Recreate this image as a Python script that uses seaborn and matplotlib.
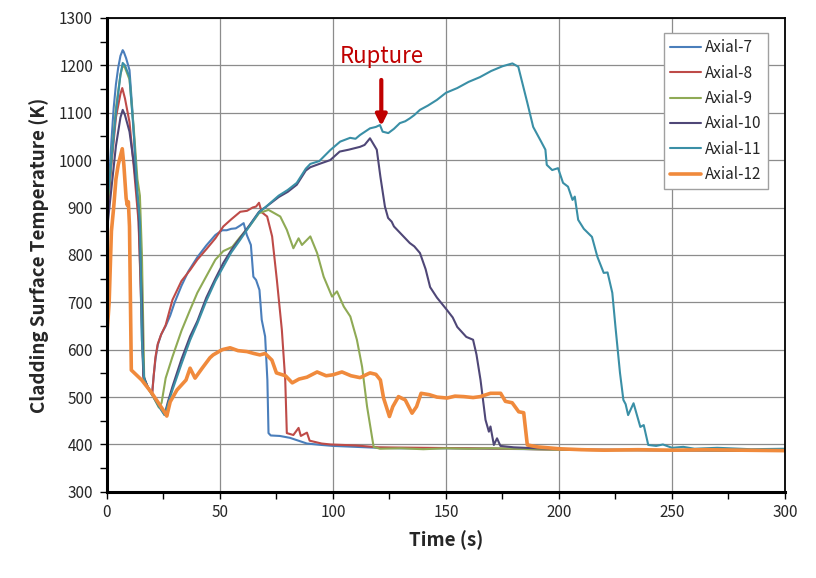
import numpy as np
import pandas as pd
import seaborn as sns
import matplotlib.pyplot as plt
from matplotlib.ticker import MultipleLocator

# ----------- Data (time s, temperature K) ----------------------------------------

axial_7 = [(0, 890), (1, 960), (2, 1040), (3, 1110), (4, 1160), (5, 1195), (6, 1220), (7, 1232),
           (7.5, 1228), (8.5, 1215), (10, 1190), (11.5, 1090), (13, 960), (14, 880), (14.8, 760),
           (15.5, 620), (16.2, 540), (18, 522), (20, 507), (20.7, 545), (21.5, 580), (22.5, 610),
           (24, 632), (26, 650), (28, 672), (30, 700), (33, 735), (36, 765), (40, 795), (44, 820),
           (48, 842), (51, 852), (53, 852), (55, 855), (57, 856), (59, 862), (60.5, 867), (61.9, 842),
           (63.7, 821), (64.8, 754), (66, 747), (67.5, 726), (68.5, 663), (70, 628), (71, 536),
           (71.5, 424), (72.5, 419), (76.5, 418), (81, 414), (88.5, 402), (95, 399), (100, 397),
           (110, 395), (120, 393), (130, 392), (150, 392), (170, 391), (190, 390), (210, 389),
           (230, 389), (250, 388), (270, 388), (300, 387)]

axial_8 = [(0, 870), (2, 990), (4, 1090), (6, 1140), (6.8, 1152), (8, 1130), (10, 1080), (12, 980),
           (14, 870), (15.5, 650), (16.2, 540), (18, 522), (20, 505), (20.7, 545), (21.5, 585),
           (22.5, 612), (24, 632), (26, 652), (29, 705), (33, 745), (36.8, 768), (40, 790), (44, 812),
           (48, 835), (51.5, 860), (55, 875), (59, 891), (62, 893), (64.5, 900), (66, 902), (67.3, 910),
           (68.5, 890), (70.9, 881), (73.1, 839), (75.2, 747), (77.4, 642), (78.9, 536), (79.6, 424),
           (82.5, 420), (84.8, 435), (85.8, 418), (88.5, 425), (89.7, 408), (95, 402), (99, 400),
           (110, 398), (120, 394), (140, 393), (160, 392), (180, 391), (200, 389), (220, 388),
           (250, 388), (280, 387), (300, 387)]

axial_9 = [(0, 880), (2, 1000), (4, 1110), (6, 1180), (7, 1200), (8, 1195), (10, 1170), (12, 1060),
           (13.5, 960), (14.6, 925), (15.5, 800), (16.5, 540), (18, 520), (20, 505), (23, 478),
           (24.2, 488), (26, 540), (29, 585), (33, 640), (36.8, 684), (40, 720), (44, 755), (48, 790),
           (51.5, 808), (55.5, 817), (59, 838), (63, 860), (67.3, 888), (71.5, 895), (76.7, 881),
           (79.6, 853), (82.5, 814), (84.8, 835), (86.3, 821), (90, 839), (93, 804), (95.9, 754),
           (99.6, 712), (101.8, 723), (104.8, 691), (107.7, 670), (110.6, 621), (112.9, 564),
           (115.1, 480), (118, 395), (120.8, 391), (130, 392), (140, 390), (150, 392), (160, 391),
           (170, 392), (180, 391), (200, 389), (220, 388), (250, 388), (280, 387), (300, 387)]

axial_10 = [(0, 850), (2, 940), (4, 1030), (6, 1090), (7, 1106), (8, 1095), (10, 1060), (12, 990),
            (14, 900), (15.5, 700), (16.2, 545), (18, 522), (20, 506), (23, 482), (25.5, 463),
            (27, 490), (29, 522), (33, 580), (36.8, 628), (40, 660), (44, 710), (48, 750),
            (51.5, 783), (55, 810), (59, 836), (63, 862), (67.3, 891), (70, 900), (76, 922),
            (80, 933), (84, 948), (88, 978), (90, 985), (94, 992), (98.8, 1000), (103, 1018),
            (107, 1022), (112, 1028), (114, 1032), (116.4, 1046), (119.4, 1022), (121, 965),
            (123, 902), (124.4, 878), (126, 870), (127, 860), (130, 845), (134, 825), (136, 818),
            (138.5, 804), (141, 770), (143, 732), (146, 710), (150.4, 684), (153, 668), (155, 648),
            (159, 627), (162, 621), (163.5, 590), (165.3, 536), (167.5, 452), (169, 427),
            (169.7, 438), (171.2, 399), (172.6, 413), (174.1, 397), (180, 394), (190, 392),
            (210, 389), (240, 388), (270, 388), (300, 387)]

axial_11 = [(0, 900), (2, 1000), (4, 1100), (6, 1180), (7, 1205), (8, 1200), (10, 1175), (12, 1050),
            (13.5, 930), (14.6, 870), (15.5, 620), (16.5, 538), (18, 520), (20, 505), (23, 480),
            (25.5, 462), (27, 485), (29, 515), (33, 570), (36.8, 620), (40, 655), (44, 703),
            (48, 745), (51.5, 775), (55, 805), (59, 832), (63, 860), (67.3, 890), (70, 900),
            (76, 925), (80, 937), (84, 952), (88, 982), (90, 992), (94, 998), (98.8, 1021),
            (103.2, 1039), (107.6, 1047), (110, 1045), (112, 1053), (116.4, 1067), (119, 1070),
            (120.8, 1074), (122, 1060), (124.5, 1057), (127, 1066), (129.6, 1078), (132, 1082),
            (134, 1088), (136, 1095), (138.5, 1106), (142, 1115), (146, 1127), (150, 1142),
            (155, 1152), (160, 1165), (165, 1175), (170, 1188), (175, 1198), (179.4, 1204),
            (182, 1197), (186, 1121), (188.6, 1070), (192, 1040), (194, 1022), (194.6, 990),
            (197, 979), (199.6, 983), (201.8, 952), (204, 944), (206, 916), (207, 923), (208.5, 874),
            (211, 855), (214.6, 838), (217, 796), (219.8, 762), (221.5, 763), (223.6, 720),
            (225, 648), (227, 551), (228.5, 494), (229.5, 485), (230.6, 462), (233, 487), (236, 437),
            (237.5, 441), (239.5, 399), (243, 397), (246, 400), (250, 393), (255, 395), (260, 391),
            (270, 393), (285, 390), (300, 391)]

axial_12 = [(0, 630), (1, 700), (2, 850), (3, 900), (4, 960), (5, 990), (6.8, 1024), (7.5, 990),
            (8.5, 920), (9, 905), (9.5, 912), (10, 860), (10.8, 557), (15.4, 536), (19.8, 509),
            (25.7, 467), (26.5, 460), (28, 490), (31, 515), (35, 536), (36.8, 561), (39, 540),
            (42, 560), (45.6, 583), (47, 589), (51, 600), (54.5, 604), (58, 598), (62, 596),
            (65, 592), (67.7, 589), (70, 592), (73, 578), (75, 551), (79, 545), (82, 530), (85, 538),
            (88.5, 542), (93, 553), (97, 545), (100, 547), (104, 553), (108, 545), (112, 541),
            (116.4, 551), (119, 548), (121, 536), (122.4, 498), (125, 459), (126.5, 480), (129, 501),
            (132, 494), (135, 466), (137, 480), (139, 508), (142.7, 505), (146, 500), (150.5, 498),
            (154, 502), (157.9, 501), (162, 499), (165.2, 501), (169.7, 508), (174.2, 508),
            (176.3, 491), (179.3, 488), (182.2, 469), (184.4, 467), (186, 399), (190.4, 395),
            (200, 391), (210, 389), (220, 388), (235, 389), (250, 388), (265, 389), (280, 388),
            (300, 387)]

series_names = ["Axial-7", "Axial-8", "Axial-9", "Axial-10", "Axial-11", "Axial-12"]
series_data = [axial_7, axial_8, axial_9, axial_10, axial_11, axial_12]
colors = ["#4A7EBB", "#BE4B48", "#8FAA55", "#4F4777", "#3A8FA6", "#F08A3C"]
widths = [1.5, 1.5, 1.5, 1.5, 1.5, 2.6]

frames = []
for name, pts in zip(series_names, series_data):
    part = pd.DataFrame(pts, columns=["time", "temp"])
    part["series"] = name
    frames.append(part)
df = pd.concat(frames, ignore_index=True)

# ----------- Build Chart ---------------------

sns.set_style("white")
plt.rcParams['font.family'] = ['Noto Sans CJK KR', 'DejaVu Sans']

fig = plt.figure(figsize=(8.16, 5.78), dpi=100)
ax = fig.add_axes([0.131, 0.149, 0.831, 0.820])

for name, col, lw in zip(series_names, colors, widths):
    sns.lineplot(data=df[df["series"] == name], x="time", y="temp", sort=False,
                 estimator=None, color=col, linewidth=lw, label=name, ax=ax)

ax.set_xlim(0, 300)
ax.set_ylim(300, 1300)
ax.xaxis.set_major_locator(MultipleLocator(50))
ax.xaxis.set_minor_locator(MultipleLocator(25))
ax.yaxis.set_major_locator(MultipleLocator(100))
ax.yaxis.set_minor_locator(MultipleLocator(50))
ax.grid(True, which="major", color="#8C8C8C", linewidth=0.9)
ax.tick_params(which="both", direction="out", length=5, width=1, color="black",
               labelsize=11, left=True, bottom=True)
ax.tick_params(axis="y", pad=5)
for side in ["top", "right"]:
    ax.spines[side].set_color("black")
    ax.spines[side].set_linewidth(1.3)
for side in ["left", "bottom"]:
    ax.spines[side].set_color("black")
    ax.spines[side].set_linewidth(2.2)

ax.set_xlabel("Time (s)", fontsize=13.5, fontweight="bold", labelpad=7)
ax.set_ylabel("Cladding Surface Temperature (K)", fontsize=13.5, fontweight="bold", labelpad=7)

ax.text(121.4, 1218, "Rupture", color="#C00000", fontsize=16, ha="center", va="center")
ax.annotate("", xy=(121.4, 1066), xytext=(121.4, 1175),
            arrowprops=dict(arrowstyle="-|>", color="#C00000", lw=3, mutation_scale=16))

leg = ax.legend(loc="upper right", bbox_to_anchor=(0.975, 0.968), borderaxespad=0,
                fontsize=11, frameon=True, fancybox=False, framealpha=1,
                edgecolor="#A0A0A0", handlelength=2.0, handletextpad=0.3, labelspacing=0.55)
leg.get_frame().set_linewidth(1.0)

fig.savefig("out.png", dpi=100)
